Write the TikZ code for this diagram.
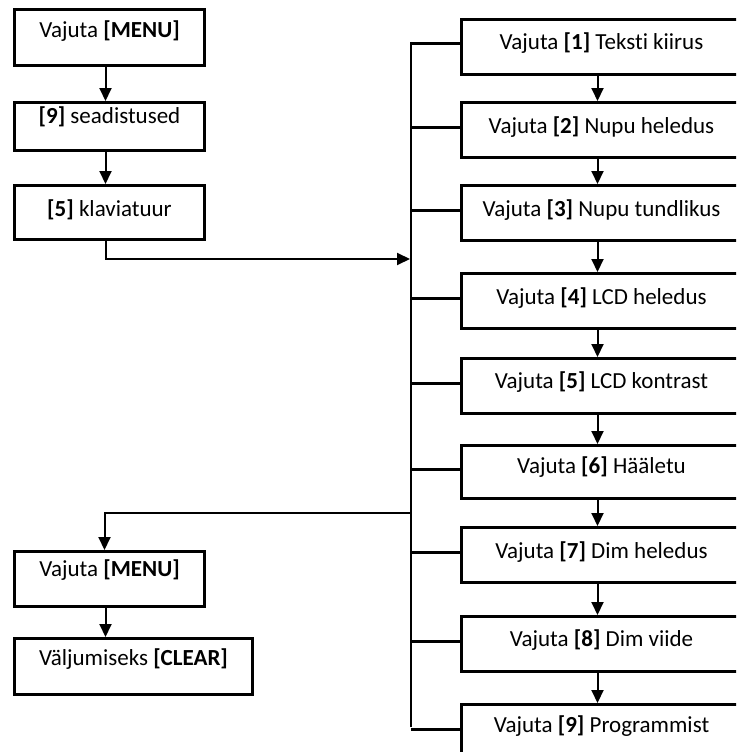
\documentclass[tikz,border=0pt]{standalone}
\usepackage{fontspec}
\setmainfont{Carlito}[Ligatures=NoCommon]
\usetikzlibrary{arrows.meta}
\tikzset{
  bx/.style={draw, line width=3pt, anchor=north west, inner xsep=0pt, inner ysep=0pt,
    font=\fontsize{23}{27}\selectfont},
  lbox/.style={bx, minimum width=190pt},
  rbox/.style={bx, minimum width=280pt},
  conn/.style={line width=2pt},
  arr/.style={line width=2pt, -{Triangle[length=13pt,width=12pt]}},
  busline/.style={line width=1.5pt},
  branch/.style={line width=3pt}
}
\begin{document}
\begin{tikzpicture}[x=1pt,y=-1pt]
\useasboundingbox (0,0) rectangle (736,752);
\clip (0,0) rectangle (736,752);
% left column
\node[lbox, text height=28pt, text depth=28pt] (l1) at (13,8) {Vajuta \textbf{[MENU]}};
\node[lbox, text height=21pt, text depth=27pt] (l2) at (13,101) {\textbf{[9]} seadistused};
\node[lbox, text height=31pt, text depth=23pt] (l3) at (13,184) {\textbf{[5]} klaviatuur};
\node[lbox, text height=25pt, text depth=30pt] (m1) at (13,550) {Vajuta \textbf{[MENU]}};
\node[bx, minimum width=238pt, text height=27pt, text depth=29pt] (m2) at (13,637) {Väljumiseks \textbf{[CLEAR]}};
% right column
\node[rbox, text height=30pt, text depth=25pt] (r1) at (460,18) {Vajuta \textbf{[1]} Teksti kiirus};
\node[rbox, text height=31pt, text depth=24pt] (r2) at (460,101) {Vajuta \textbf{[2]} Nupu heledus};
\node[rbox, text height=31pt, text depth=24pt] (r3) at (460,184) {Vajuta \textbf{[3]} Nupu tundlikus};
\node[rbox, text height=31pt, text depth=24pt] (r4) at (460,272) {Vajuta \textbf{[4]} LCD heledus};
\node[rbox, text height=30pt, text depth=25pt] (r5) at (460,357) {Vajuta \textbf{[5]} LCD kontrast};
\node[rbox, text height=28pt, text depth=25pt] (r6) at (460,444) {Vajuta \textbf{[6]} Hääletu};
\node[rbox, text height=31pt, text depth=24pt] (r7) at (460,526) {Vajuta \textbf{[7]} Dim heledus};
\node[rbox, text height=30pt, text depth=25pt] (r8) at (460,615) {Vajuta \textbf{[8]} Dim viide};
\node[rbox, text height=28pt, text depth=27pt] (r9) at (460,703) {Vajuta \textbf{[9]} Programmist};
% bus
\coordinate (bt) at (411,42);
\coordinate (bb) at (411,727);
\coordinate (in) at (410,259);
\coordinate (out) at (411,513);
\draw[busline] (bt) -- (bb);
\foreach \n in {r1,r2,r3,r4,r5,r6,r7,r8,r9}
  \draw[branch] ([yshift=3pt]\n.west) -- ([yshift=3pt]\n.west -| bt);
% left arrows
\draw[arr] ([xshift=-4pt]l1.south) -- ([xshift=-4pt]l2.north);
\draw[arr] ([xshift=-4pt]l2.south) -- ([xshift=-4pt]l3.north);
\draw[arr] ([xshift=-4pt]m1.south) -- ([xshift=-4pt]m1.south |- m2.north);
% right arrows
\foreach \a/\b in {r1/r2,r2/r3,r3/r4,r4/r5,r5/r6,r6/r7,r7/r8,r8/r9}
  \draw[arr] ([xshift=-4pt]\a.south) -- ([xshift=-4pt]\b.north);
% incoming and outgoing
\draw[arr] ([xshift=-4pt]l3.south) |- (in);
\draw[arr] (out) -| ([xshift=-5pt]m1.north);
\end{tikzpicture}
\end{document}
